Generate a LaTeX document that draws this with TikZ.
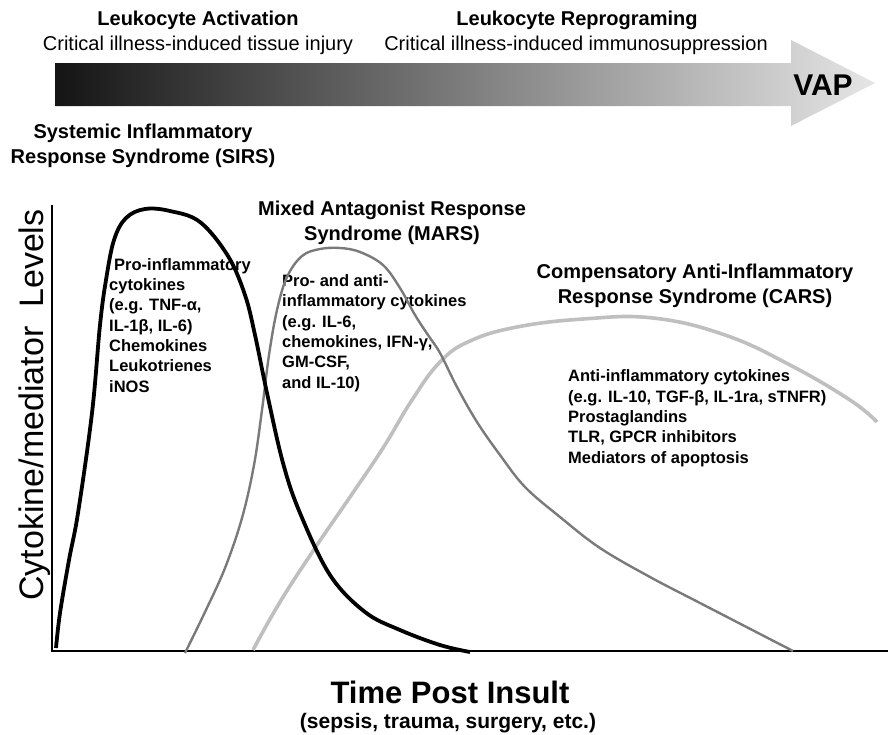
\documentclass[tikz,border=0pt]{standalone}
\usepackage{fontspec}
\setmainfont{Liberation Sans}

\begin{document}
\begin{tikzpicture}[
    x=1pt, y=-1pt,
    title/.style={font=\fontsize{20}{25}\selectfont\bfseries, align=center, inner sep=0pt},
    phase/.style={font=\fontsize{20}{25}\selectfont, inner sep=0pt},
    list/.style={font=\fontsize{16.5}{20.3}\selectfont\bfseries, align=left, inner sep=0pt},
    axis/.style={line width=2.6pt},
    sirs/.style={line width=3.8pt, black},
    mars/.style={line width=2.4pt, black!52},
    cars/.style={line width=3.6pt, black!25},
]
    \useasboundingbox (0,0) rectangle (888,734);

    % time arrow
    \shade[left color=black!92, middle color=black!35, right color=black!10]
        (55,63) -- (791,63) -- (791,40) -- (875,83) -- (791,126) -- (791,106) -- (55,106) -- cycle;
    \node[title, anchor=base] (act) at (198,25) {Leukocyte Activation};
    \node[phase, anchor=base] (injury) at (198,50) {Critical illness-induced tissue injury};
    \node[title, anchor=base] (reprog) at (577,25) {Leukocyte Reprograming};
    \node[phase, anchor=base] (suppr) at (576,50) {Critical illness-induced immunosuppression};
    \node[font=\fontsize{30}{30}\selectfont\bfseries, inner sep=0pt, anchor=base] (vap) at (823,95) {VAP};

    % syndromes (base = last line)
    \node[title, anchor=base] (sirst) at (143,163) {Systemic Inflammatory\\Response Syndrome (SIRS)};
    \node[title, anchor=base] (marst) at (392,240) {Mixed Antagonist Response\\Syndrome (MARS)};
    \node[title, anchor=base] (carst) at (695,303) {Compensatory Anti-Inflammatory\\Response Syndrome (CARS)};

    \node[list, anchor=base west] (sirsl) at (109,392)
        {\hspace*{5pt}Pro-inflammatory\\cytokines\\(e.g. TNF-α,\\IL-1β, IL-6)\\Chemokines\\Leukotrienes\\iNOS};
    \node[list, anchor=base west] (marsl) at (282,388)
        {Pro- and anti-\\inflammatory cytokines\\(e.g. IL-6,\\chemokines, IFN-γ,\\GM-CSF,\\and IL-10)};
    \node[list, anchor=base west] (carsl) at (568,463)
        {Anti-inflammatory cytokines\\(e.g. IL-10, TGF-β, IL-1ra, sTNFR)\\Prostaglandins\\TLR, GPCR inhibitors\\Mediators of apoptosis};

    % axes
    \coordinate (o) at (52,651);
    \coordinate (ytop) at (52,205);
    \coordinate (xend) at (888,651);
    \draw[axis] (ytop) -- (o) -- (xend);
    \node[font=\fontsize{34}{34}\selectfont, rotate=90, inner sep=0pt, anchor=base] (ylab) at (43,405)
        {Cytokine/mediator\ \ Levels};
    \node[font=\fontsize{31}{31}\selectfont\bfseries, inner sep=0pt, anchor=base] (xlab) at (450,703) {Time Post Insult};
    \node[font=\fontsize{21}{21}\selectfont\bfseries, inner sep=0pt, anchor=base] (xsub) at (448,728)
        {(sepsis, trauma, surgery, etc.)};

    % curves
    \draw[cars] plot[smooth, tension=0.7] coordinates {(253,650) (280,602) (315,548) (350,497) (383,448)
        (412,400) (440,362) (470,341) (517,327) (583,319) (653,318) (725,335) (790,365)
        (850,400) (877,422)};
    \draw[mars] plot[smooth, tension=0.6] coordinates {(185,653) (205,612) (225,568) (242,518) (254,465)
        (262,410) (269,355) (277,310) (287,277) (302,256) (320,249) (340,248) (360,252) (383,265)
        (400,288) (415,315) (428,335) (440,353) (457,387) (477,422) (500,455) (525,487) (560,517)
        (600,548) (650,577) (700,603) (793,651)};
    \draw[sirs] plot[smooth, tension=0.6] coordinates {(56,648) (60,613) (69,560) (78,513) (92,413)
        (100,325) (106,280) (114,240) (126,218) (145,209) (170,211) (200,222) (228,256) (245,295)
        (255,335) (267,393) (283,463) (300,513) (330,575) (365,612) (400,630) (440,645) (470,652)};
\end{tikzpicture}
\end{document}
